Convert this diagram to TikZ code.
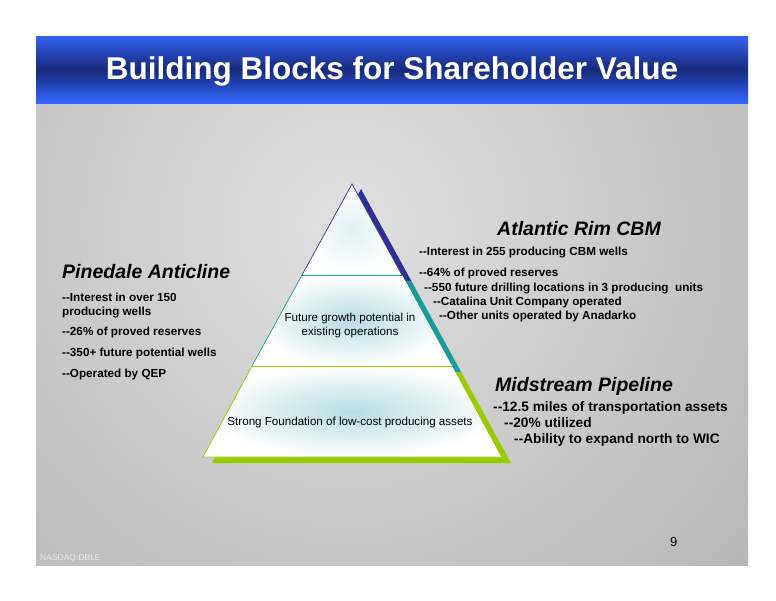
\documentclass[tikz,border=0pt]{standalone}
\usepackage{fontspec}
\setmainfont{Liberation Sans}[Ligatures=TeXOff]
\definecolor{navyb}{HTML}{2E3192}
\definecolor{tealb}{HTML}{1A9A9A}
\definecolor{greenb}{HTML}{99CC00}
\definecolor{bandtop}{HTML}{3262F2}
\definecolor{bandmid}{HTML}{17297A}
\definecolor{bandbot}{HTML}{3366FF}
\definecolor{bginner}{HTML}{E0E0E0}
\definecolor{bgouter}{HTML}{A2A2A2}
\definecolor{pyrc}{HTML}{B8DCE2}
\begin{document}
\begin{tikzpicture}[x=1pt,y=-1pt,
  titletext/.style={font=\fontsize{31.5}{34}\selectfont\bfseries, text=white, inner sep=0pt},
  headtext/.style={font=\fontsize{19.5}{22}\selectfont\bfseries\itshape, inner sep=0pt, anchor=base west},
  bullettext/.style={font=\fontsize{11.7}{14}\selectfont\bfseries, inner sep=0pt, anchor=base west},
  bigbullet/.style={font=\fontsize{13.7}{16}\selectfont\bfseries, inner sep=0pt, anchor=base west},
  pyrtext/.style={font=\fontsize{11.6}{14}\selectfont, inner sep=0pt, align=center},
  smalltext/.style={font=\fontsize{8.5}{10}\selectfont, text=white!92!black, inner sep=0pt, anchor=base west},
  pagetext/.style={font=\fontsize{13}{15}\selectfont, inner sep=0pt, anchor=base west}]
\useasboundingbox (0,0) rectangle (776,600);
\fill[white] (0,0) rectangle (776,600);
% gray background
\begin{scope}
  \clip (36,103) rectangle (748,565);
  \shade[inner color=bginner, outer color=bgouter] (345,225) circle (800);
\end{scope}
% title band
\shade[top color=bandtop, bottom color=bandbot, middle color=bandmid] (36,36) rectangle (748,103);
\node[titletext] (title) at (392,71) {Building Blocks for Shareholder Value};
% pyramid coordinates
\coordinate (A) at (352,184);
\coordinate (BL) at (203,457);
\coordinate (BR) at (501,457);
\coordinate (L1) at (302,275);
\coordinate (R1) at (402,275);
\coordinate (L2) at (252,366);
\coordinate (R2) at (452,366);
% shadow
\begin{scope}
  \clip (361,189) -- (212,463) -- (511,463) -- cycle;
  \fill[navyb] (100,150) rectangle (600,281);
  \fill[tealb] (100,281) rectangle (600,372);
  \fill[greenb] (100,372) rectangle (600,470);
\end{scope}
% pyramid sections
\fill[white] (A) -- (BL) -- (BR) -- cycle;
\shade[inner color=pyrc!40, outer color=white] (A) -- (L1) -- (R1) -- cycle;
\shade[inner color=pyrc, outer color=white] (L1) -- (L2) -- (R2) -- (R1) -- cycle;
\shade[inner color=pyrc, outer color=white] (L2) -- (BL) -- (BR) -- (R2) -- cycle;
\draw[navyb, line width=0.7pt] (L1) -- (A) -- (R1);
\draw[tealb, line width=0.7pt] (L1) -- (R1);
\draw[tealb, line width=0.7pt] (L1) -- (L2);
\draw[greenb, line width=0.8pt] (L2) -- (R2);
\draw[greenb, line width=0.8pt] (L2) -- (BL) -- (BR);
\node[pyrtext] (growth) at (350,325) {Future growth potential in\\existing operations};
\node[pyrtext] (found) at (350,422) {Strong Foundation of low-cost producing assets};
% left block
\node[headtext] (pine) at (62,278) {Pinedale Anticline};
\node[bullettext] (p1) at (62,301) {--Interest in over 150};
\node[bullettext] (p2) at (62,315) {producing wells};
\node[bullettext] (p3) at (62,335) {--26\% of proved reserves};
\node[bullettext] (p4) at (62,356) {--350+ future potential wells};
\node[bullettext] (p5) at (62,377) {--Operated by QEP};
% right top block
\node[headtext] (atl) at (497,235) {Atlantic Rim CBM};
\node[bullettext] (a1) at (419,255) {--Interest in 255 producing CBM wells};
\node[bullettext] (a2) at (419,276) {--64\% of proved reserves};
\node[bullettext] (a3) at (424,291) {--550 future drilling locations in 3 producing\ \ units};
\node[bullettext] (a4) at (433,305) {--Catalina Unit Company operated};
\node[bullettext] (a5) at (439,319) {--Other units operated by Anadarko};
% right bottom block
\node[headtext] (mid) at (495,391) {Midstream Pipeline};
\node[bigbullet] (m1) at (493,411) {--12.5 miles of transportation assets};
\node[bigbullet] (m2) at (504,427) {--20\% utilized};
\node[bigbullet] (m3) at (514,443) {--Ability to expand north to WIC};
% footer
\node[pagetext] (page) at (670,546) {9};
\node[smalltext] (nasdaq) at (40,560) {NASDAQ:DBLE};
\end{tikzpicture}
\end{document}
